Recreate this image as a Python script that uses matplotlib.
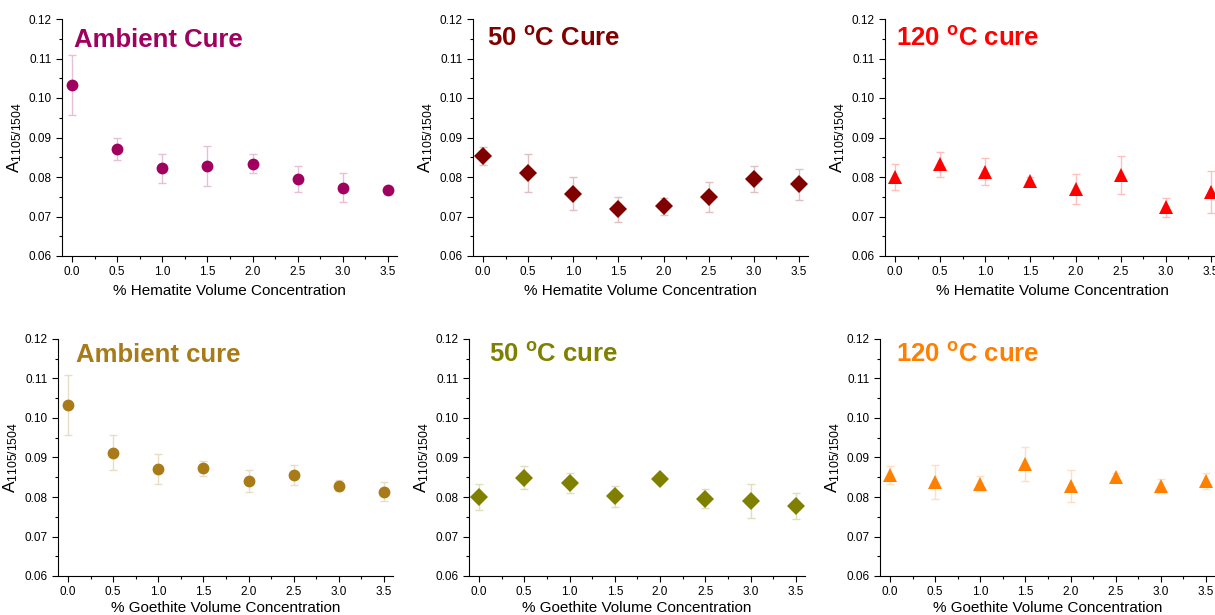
import numpy as np
import matplotlib
matplotlib.use("Agg")
import matplotlib.pyplot as plt
from matplotlib.ticker import MultipleLocator, FormatStrFormatter
from matplotlib.colors import to_rgb

plt.rcParams['font.family'] = ['Liberation Sans', 'DejaVu Sans']
plt.rcParams['mathtext.fontset'] = 'custom'
plt.rcParams['mathtext.rm'] = 'Liberation Sans'
plt.rcParams['mathtext.it'] = 'Liberation Sans:italic'
plt.rcParams['mathtext.bf'] = 'Liberation Sans:bold'

# 体积浓度 (%)
conc = [0.0, 0.5, 1.0, 1.5, 2.0, 2.5, 3.0, 3.5]

# 赤铁矿
hem_amb = [0.1033, 0.0870, 0.0822, 0.0828, 0.0834, 0.0795, 0.0773, 0.0766]
hem_amb_err = [0.0076, 0.0028, 0.0037, 0.0050, 0.0025, 0.0034, 0.0037, 0.0008]
hem_50 = [0.0853, 0.0810, 0.0758, 0.0718, 0.0726, 0.0749, 0.0796, 0.0782]
hem_50_err = [0.0022, 0.0048, 0.0041, 0.0032, 0.0021, 0.0038, 0.0033, 0.0039]
hem_120 = [0.0799, 0.0832, 0.0813, 0.0791, 0.0769, 0.0806, 0.0723, 0.0762]
hem_120_err = [0.0033, 0.0032, 0.0034, 0.0010, 0.0038, 0.0048, 0.0025, 0.0053]

# 针铁矿
goe_amb = [0.1032, 0.0912, 0.0871, 0.0873, 0.0840, 0.0855, 0.0829, 0.0813]
goe_amb_err = [0.0076, 0.0044, 0.0037, 0.0019, 0.0028, 0.0025, 0.0015, 0.0024]
goe_50 = [0.0800, 0.0849, 0.0836, 0.0802, 0.0845, 0.0796, 0.0791, 0.0777]
goe_50_err = [0.0034, 0.0030, 0.0026, 0.0027, 0.0008, 0.0024, 0.0043, 0.0033]
goe_120 = [0.0856, 0.0839, 0.0834, 0.0883, 0.0828, 0.0850, 0.0827, 0.0841]
goe_120_err = [0.0022, 0.0043, 0.0020, 0.0043, 0.0040, 0.0012, 0.0018, 0.0021]

titles = ["Ambient Cure", r"50 $^{\mathbf{o}}$C Cure", r"120 $^{\mathbf{o}}$C cure",
          "Ambient cure", r"50 $^{\mathbf{o}}$C cure", r"120 $^{\mathbf{o}}$C cure"]
xlabels = ["% Hematite Volume Concentration"] * 3 + ["% Goethite Volume Concentration"] * 3
colors = ["#A0005E", "#800000", "#FF0000", "#A87A18", "#808000", "#FF8000"]
markers = ["o", "D", "^", "o", "D", "^"]
msizes = [8.5, 9, 10, 8.5, 9, 10]
series = [(hem_amb, hem_amb_err), (hem_50, hem_50_err), (hem_120, hem_120_err),
          (goe_amb, goe_amb_err), (goe_50, goe_50_err), (goe_120, goe_120_err)]

# 像素位置 (左, 右, 上, 下)
W, H = 1215, 615
boxes = [(62, 397, 19, 256), (473, 808, 19, 256), (885, 1220, 19, 256),
         (58, 393, 339, 576), (469, 805, 339, 576), (880, 1215, 339, 576)]
title_pos = [(0.036, 0.88, 18.5), (0.042, 0.885, 18.5), (0.033, 0.885, 18.5),
             (0.054, 0.903, 18.5), (0.06, 0.903, 18.5), (0.048, 0.903, 18.5)]


def light(c, f=0.75):
    r, g, b = to_rgb(c)
    return (r + (1 - r) * f, g + (1 - g) * f, b + (1 - b) * f)


fig = plt.figure(figsize=(W / 100, H / 100), dpi=100)

for i in range(6):
    l, r, t, b = boxes[i]
    ax = fig.add_axes([l / W, 1 - b / H, (r - l) / W, (b - t) / H])
    y, e = series[i]
    ax.errorbar(conc, y, yerr=e, fmt='none', ecolor=light(colors[i]),
                elinewidth=1, capsize=3, capthick=1)
    ax.plot(conc, y, linestyle='none', marker=markers[i], markersize=msizes[i],
            color=colors[i], markeredgewidth=0)
    ax.set_xlim(-0.11, 3.6)
    ax.set_ylim(0.06, 0.12)
    ax.xaxis.set_major_locator(MultipleLocator(0.5))
    ax.xaxis.set_minor_locator(MultipleLocator(0.25))
    ax.yaxis.set_major_locator(MultipleLocator(0.01))
    ax.yaxis.set_minor_locator(MultipleLocator(0.005))
    ax.xaxis.set_major_formatter(FormatStrFormatter('%.1f'))
    ax.yaxis.set_major_formatter(FormatStrFormatter('%.2f'))
    ax.spines['top'].set_visible(False)
    ax.spines['right'].set_visible(False)
    ax.tick_params(which='major', direction='out', length=4, width=0.8, labelsize=8.5)
    ax.tick_params(which='minor', direction='out', length=2, width=0.8)
    ax.set_xlabel(xlabels[i], fontsize=11, labelpad=2 if i >= 3 else 4)
    ax.set_ylabel(r"A$_{\mathrm{1105/1504}}$", fontsize=12.5, labelpad=3)
    tx, ty, fs = title_pos[i]
    ax.text(tx, ty, titles[i], transform=ax.transAxes, color=colors[i],
            fontsize=fs, fontweight='bold', va='baseline', ha='left')

fig.savefig("out.png", dpi=100)
